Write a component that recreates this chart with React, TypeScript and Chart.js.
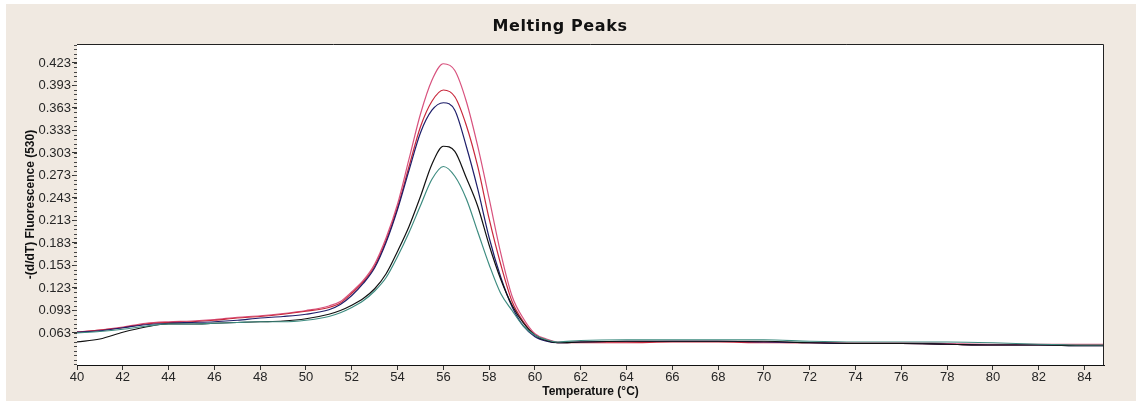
import React, { useEffect, useRef } from 'react';
import { Chart, registerables } from 'chart.js';

Chart.register(...registerables);

const temps = [40, 41, 42, 43, 44, 45, 46, 47, 48, 49, 50, 51, 51.5, 52, 52.5, 53, 53.5, 54, 54.5, 55, 55.5, 56, 56.5, 57, 57.5, 58, 58.5, 59, 59.5, 60, 60.5, 61, 62, 64, 66, 68, 70, 72, 74, 76, 78, 80, 82, 84, 84.9];

const pinkSeries = [0.064, 0.067, 0.071, 0.076, 0.078, 0.079, 0.081, 0.084, 0.086, 0.089, 0.093, 0.099, 0.105, 0.118, 0.133, 0.155, 0.190, 0.235, 0.295, 0.355, 0.400, 0.422, 0.413, 0.372, 0.312, 0.242, 0.170, 0.112, 0.082, 0.062, 0.055, 0.051, 0.051, 0.051, 0.052, 0.052, 0.051, 0.050, 0.050, 0.050, 0.049, 0.048, 0.048, 0.048, 0.048];
const redSeries = [0.064, 0.067, 0.070, 0.075, 0.077, 0.078, 0.080, 0.083, 0.085, 0.088, 0.092, 0.097, 0.103, 0.116, 0.131, 0.152, 0.186, 0.230, 0.285, 0.338, 0.372, 0.387, 0.378, 0.340, 0.285, 0.215, 0.155, 0.105, 0.078, 0.060, 0.053, 0.050, 0.050, 0.050, 0.051, 0.051, 0.050, 0.050, 0.049, 0.049, 0.048, 0.047, 0.047, 0.047, 0.047];
const navySeries = [0.064, 0.066, 0.070, 0.074, 0.076, 0.077, 0.078, 0.080, 0.083, 0.085, 0.088, 0.094, 0.101, 0.113, 0.129, 0.150, 0.184, 0.228, 0.280, 0.330, 0.360, 0.370, 0.360, 0.312, 0.255, 0.190, 0.138, 0.098, 0.072, 0.058, 0.052, 0.050, 0.051, 0.052, 0.052, 0.052, 0.051, 0.050, 0.049, 0.049, 0.048, 0.047, 0.047, 0.046, 0.046];
const blackSeries = [0.051, 0.055, 0.064, 0.071, 0.075, 0.075, 0.076, 0.077, 0.078, 0.079, 0.082, 0.088, 0.093, 0.100, 0.109, 0.122, 0.142, 0.172, 0.205, 0.245, 0.288, 0.312, 0.305, 0.270, 0.232, 0.180, 0.135, 0.100, 0.076, 0.060, 0.053, 0.050, 0.051, 0.052, 0.052, 0.052, 0.052, 0.050, 0.049, 0.049, 0.048, 0.047, 0.047, 0.046, 0.046];
const tealSeries = [0.063, 0.065, 0.068, 0.072, 0.075, 0.075, 0.076, 0.077, 0.078, 0.078, 0.080, 0.085, 0.090, 0.097, 0.106, 0.119, 0.137, 0.165, 0.197, 0.233, 0.268, 0.285, 0.272, 0.242, 0.198, 0.154, 0.116, 0.093, 0.072, 0.060, 0.054, 0.051, 0.053, 0.054, 0.054, 0.054, 0.054, 0.052, 0.051, 0.051, 0.051, 0.050, 0.048, 0.047, 0.047];

const xTicks = [40, 42, 44, 46, 48, 50, 52, 54, 56, 58, 60, 62, 64, 66, 68, 70, 72, 74, 76, 78, 80, 82, 84];
const yTicks = [0.063, 0.093, 0.123, 0.153, 0.183, 0.213, 0.243, 0.273, 0.303, 0.333, 0.363, 0.393, 0.423];

const TITLE = 'Melting Peaks';
const X_TITLE = 'Temperature (°C)';
const Y_TITLE = '-(d/dT) Fluorescence (530)';

const X_MIN = 40;
const X_MAX = 84.85;
const Y_MIN = 0.0203;
const Y_MAX = 0.4483;
const Y_MINOR_STEP = 0.006;

const seriesDefs = [
  { label: 'Sample 5', values: tealSeries, color: '#3E8C80' },
  { label: 'Sample 4', values: blackSeries, color: '#111111' },
  { label: 'Sample 3', values: navySeries, color: '#1E1E6A' },
  { label: 'Sample 2', values: redSeries, color: '#C8283C' },
  { label: 'Sample 1', values: pinkSeries, color: '#D8527E' },
];

const framePlugin = {
  id: 'frame',
  beforeDatasetsDraw(chart: any) {
    const { ctx, chartArea: a } = chart;
    ctx.save();
    ctx.fillStyle = '#ffffff';
    ctx.fillRect(a.left, a.top, a.right - a.left, a.bottom - a.top);
    ctx.restore();
  },
  afterDraw(chart: any) {
    const { ctx, chartArea: a, scales } = chart;
    ctx.save();
    ctx.strokeStyle = '#222222';
    ctx.lineWidth = 1;
    ctx.beginPath();
    ctx.moveTo(a.left, a.top + 0.5);
    ctx.lineTo(a.right - 0.5, a.top + 0.5);
    ctx.lineTo(a.right - 0.5, a.bottom);
    ctx.stroke();
    const ys = scales.y;
    ctx.strokeStyle = '#444444';
    ctx.beginPath();
    for (let i = -10; i < 80; i++) {
      const v = yTicks[0] + i * Y_MINOR_STEP;
      if (v < Y_MIN || v > Y_MAX) continue;
      const py = Math.round(ys.getPixelForValue(v)) + 0.5;
      ctx.moveTo(a.left - 3, py);
      ctx.lineTo(a.left, py);
    }
    ctx.stroke();
    // title
    ctx.fillStyle = '#111111';
    ctx.font = 'bold 16px "DejaVu Sans"';
    (ctx as any).letterSpacing = '0.6px';
    ctx.textAlign = 'center';
    ctx.textBaseline = 'middle';
    ctx.fillText(TITLE, 560, 27);
    (ctx as any).letterSpacing = '0px';
    ctx.restore();
  },
};

export default function App() {
  const ref = useRef<HTMLCanvasElement>(null);
  useEffect(() => {
    if (!ref.current) return;
    const chart = new Chart(ref.current, {
      type: 'line',
      data: {
        datasets: seriesDefs.map((s) => ({
          label: s.label,
          data: temps.map((t, i) => ({ x: t, y: s.values[i] })),
          borderColor: s.color,
          borderWidth: 1.2,
          pointRadius: 0,
          fill: false,
          cubicInterpolationMode: 'monotone' as const,
        })),
      },
      options: {
        responsive: false,
        animation: false,
        devicePixelRatio: 1,
        layout: { padding: { left: 0, right: 32, top: 44, bottom: 0 } },
        plugins: {
          legend: { display: false },
          tooltip: { enabled: false },
          title: { display: false },
        },
        scales: {
          x: {
            type: 'linear',
            min: X_MIN,
            max: X_MAX,
            afterBuildTicks: (scale: any) => {
              scale.ticks = xTicks.map((v) => ({ value: v }));
            },
            afterFit: (scale: any) => {
              scale.height = 36;
            },
            ticks: {
              autoSkip: false,
              maxRotation: 0,
              padding: 0,
              color: '#262626',
              font: { family: 'Liberation Sans', size: 13 },
              callback: (v: any) => String(v),
            },
            grid: { drawOnChartArea: false, drawTicks: true, tickLength: 5, color: '#333333' },
            border: { display: true, color: '#111111' },
            title: {
              display: true,
              text: X_TITLE,
              color: '#111111',
              font: { family: 'Liberation Sans', weight: 'bold', size: 12 },
              padding: { top: 0, bottom: 2 },
            },
          },
          y: {
            type: 'linear',
            min: Y_MIN,
            max: Y_MAX,
            afterBuildTicks: (scale: any) => {
              scale.ticks = yTicks.map((v) => ({ value: v }));
            },
            afterFit: (scale: any) => {
              scale.width = 77;
            },
            ticks: {
              autoSkip: false,
              padding: 1,
              color: '#262626',
              font: { family: 'Liberation Sans', size: 13 },
              callback: (v: any) => Number(v).toFixed(3),
            },
            grid: { drawOnChartArea: false, drawTicks: true, tickLength: 5, color: '#333333' },
            border: { display: true, color: '#111111' },
            title: {
              display: true,
              text: Y_TITLE,
              color: '#111111',
              font: { family: 'Liberation Sans', weight: 'bold', size: 12 },
              padding: { top: 23, bottom: 0 },
            },
          },
        },
      },
      plugins: [framePlugin],
    });
    return () => chart.destroy();
  }, []);

  return (
    <div style={{ position: 'fixed', left: 0, top: 0, width: 1136, height: 401, background: '#ffffff', overflow: 'hidden' }}>
      <div style={{ position: 'absolute', left: 6, top: 4, right: 0, bottom: 0, background: '#F0E9E1' }} />
      <canvas ref={ref} width={1136} height={401} style={{ position: 'absolute', left: 0, top: 0, width: 1136, height: 401 }} />
    </div>
  );
}
